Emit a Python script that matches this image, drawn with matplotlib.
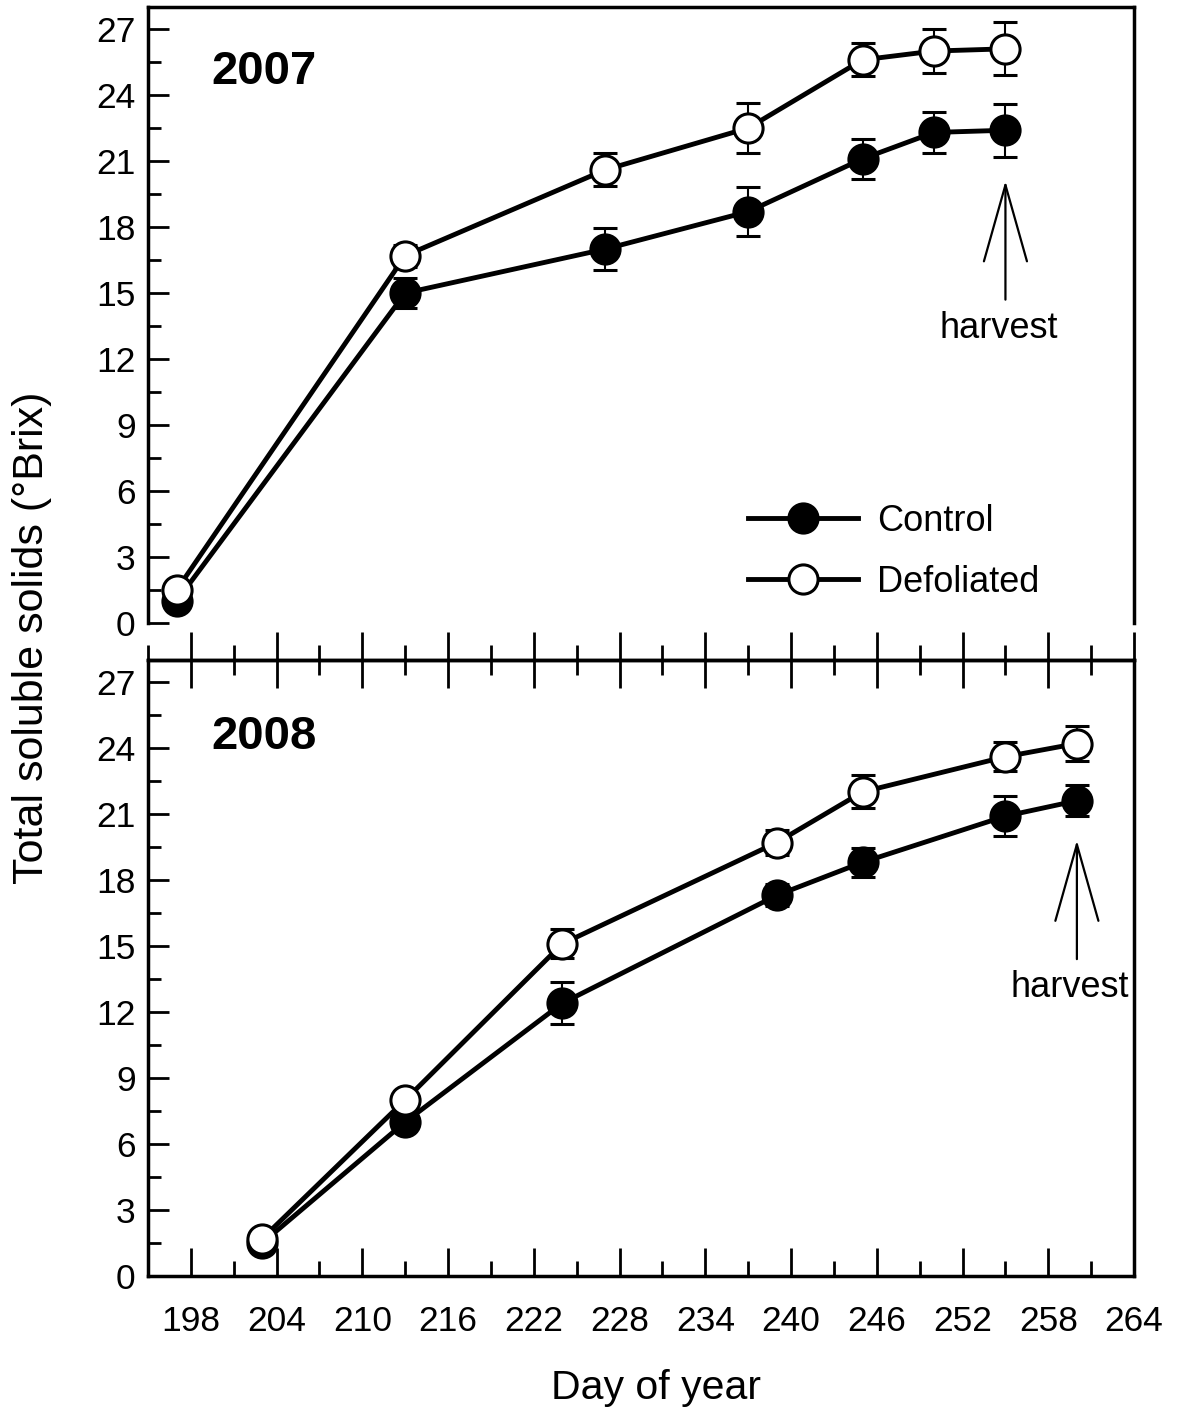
import matplotlib.pyplot as plt

plt.rcParams['font.family'] = ['Liberation Sans', 'DejaVu Sans']

# 2007 season
days_2007 = [197, 213, 227, 237, 245, 250, 255]
control_2007 = [1.0, 15.0, 17.0, 18.7, 21.1, 22.3, 22.4]
control_2007_err = [0.3, 0.7, 0.95, 1.1, 0.9, 0.95, 1.2]
defol_2007 = [1.5, 16.7, 20.6, 22.5, 25.6, 26.0, 26.1]
defol_2007_err = [0.3, 0.5, 0.75, 1.15, 0.75, 1.0, 1.2]

# 2008 season
days_2008 = [203, 213, 224, 239, 245, 255, 260]
control_2008 = [1.5, 7.0, 12.4, 17.3, 18.8, 20.9, 21.6]
control_2008_err = [0.2, 0.3, 0.95, 0.5, 0.65, 0.9, 0.7]
defol_2008 = [1.7, 8.0, 15.1, 19.7, 22.0, 23.6, 24.2]
defol_2008_err = [0.2, 0.4, 0.65, 0.55, 0.75, 0.65, 0.8]

years = ['2007', '2008']
series_names = ['Control', 'Defoliated']
harvest_days = [255, 260]

major_days = list(range(198, 265, 6))
minor_days = [d for d in range(195, 265, 3) if d not in major_days]

fig = plt.figure(figsize=(11.86, 14.08), dpi=100)
ax_top = fig.add_axes([0.1248, 0.5575, 0.8314, 0.4375])
ax_bot = fig.add_axes([0.1248, 0.0938, 0.8314, 0.4375])

panels = [
    (ax_top, days_2007, control_2007, control_2007_err, defol_2007, defol_2007_err),
    (ax_bot, days_2008, control_2008, control_2008_err, defol_2008, defol_2008_err),
]
year_pos = [0.895, 0.875]

for i, (ax, days, ctl, ctl_err, dfl, dfl_err) in enumerate(panels):
    style = dict(color='black', lw=3.5, ms=21, mew=2.2, mec='black',
                 elinewidth=1.5, capsize=8.5, capthick=1.5, ecolor='black')
    eb1 = ax.errorbar(days, ctl, yerr=ctl_err, marker='o', mfc='black', **style)
    eb2 = ax.errorbar(days, dfl, yerr=dfl_err, marker='o', mfc='white', **style)

    ax.set_xlim(195, 264)
    ax.set_ylim(0, 28)
    ax.set_yticks(range(0, 28, 3))
    ax.set_yticks([v + 1.5 for v in range(0, 27, 3)], minor=True)
    ax.tick_params(axis='y', which='major', direction='in', length=15, width=2,
                   labelsize=25.5, pad=9, right=False)
    ax.tick_params(axis='y', which='minor', direction='in', length=9, width=2,
                   right=False)
    for s in ax.spines.values():
        s.set_linewidth(2.5)

    ax.text(0.064, year_pos[i], years[i], transform=ax.transAxes, fontsize=34,
            fontweight='bold', ha='left', va='center')

    # harvest arrow below the last control point
    tip = ctl[-1] - ctl_err[-1] - 1.1
    base = tip - 5.4
    ax.annotate('', xy=(harvest_days[i], tip), xytext=(harvest_days[i], base),
                arrowprops=dict(arrowstyle='->, head_length=5.5, head_width=1.55',
                                lw=1.6, color='black', shrinkA=0, shrinkB=0,
                                mutation_scale=10))
    ax.text(harvest_days[i] - 0.5, base - 0.5, 'harvest', fontsize=26,
            ha='center', va='top')

    if i == 0:
        ax.legend([eb1[0], eb2[0]], series_names, loc='center left',
                  bbox_to_anchor=(0.608, 0.116), frameon=False, fontsize=26,
                  handlelength=3.05, handletextpad=0.53, labelspacing=0.72,
                  borderpad=0, borderaxespad=0)

# top panel: no x axis of its own
ax_top.spines['bottom'].set_visible(False)
ax_top.tick_params(axis='x', which='both', bottom=False, labelbottom=False)

# bottom panel x axis
ax_bot.set_xticks(major_days)
ax_bot.set_xticks(minor_days, minor=True)
ax_bot.tick_params(axis='x', which='major', direction='in', length=20, width=2,
                   labelsize=25.5, pad=21, top=False)
ax_bot.tick_params(axis='x', which='minor', direction='in', length=11, width=2,
                   top=False)
sec = ax_bot.secondary_xaxis('top')
sec.set_xticks(major_days)
sec.set_xticks(minor_days, minor=True)
sec.tick_params(axis='x', which='major', direction='inout', length=40, width=2,
                labeltop=False)
sec.tick_params(axis='x', which='minor', direction='inout', length=22, width=2)
sec.spines['top'].set_linewidth(2.5)
ax_bot.set_xlabel('Day of year', fontsize=29.5, labelpad=22)
ax_bot.xaxis.label.set_x(0.515)

fig.text(0.027, 0.547, 'Total soluble solids (\u00b0Brix)', fontsize=31,
         rotation=90, ha='center', va='center')

fig.savefig('out.png', dpi=100)
